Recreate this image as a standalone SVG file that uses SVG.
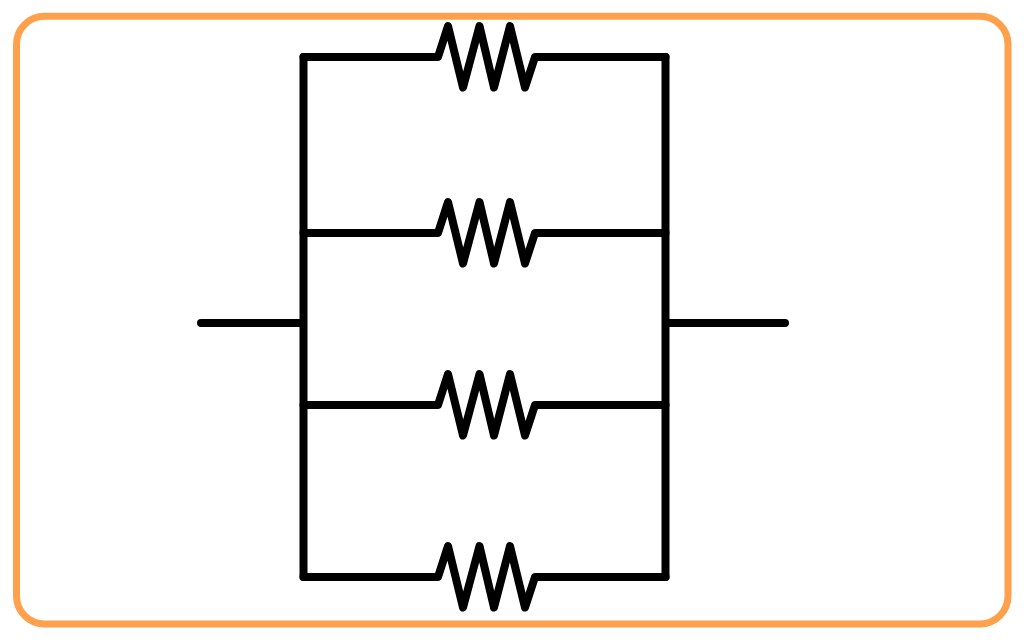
<svg xmlns="http://www.w3.org/2000/svg" width="1024" height="640" viewBox="0 0 1024 640">
  <defs>
    <style>
      .w { fill: none; stroke: #000; stroke-width: 8; stroke-linecap: round; stroke-linejoin: round; }
    </style>
    <path id="r" class="w" d="M303.5 0H438L448 -31L463 30.5L479.5 -31L494 30.5L510 -31L525 30.5L535 0H665.5"/>
  </defs>
  <rect id="frame" x="16.5" y="16.3" width="991.5" height="607.7" rx="28" ry="28" fill="#fff" stroke="#ffa04d" stroke-width="7"/>
  <g id="connectors">
    <path class="w" d="M303.5 57V577M665.5 57V577M201 323H303.5M665.5 323H785"/>
  </g>
  <g id="r1"><use href="#r" y="57"/></g>
  <g id="r2"><use href="#r" y="233"/></g>
  <g id="r3"><use href="#r" y="405"/></g>
  <g id="r4"><use href="#r" y="577"/></g>
</svg>
